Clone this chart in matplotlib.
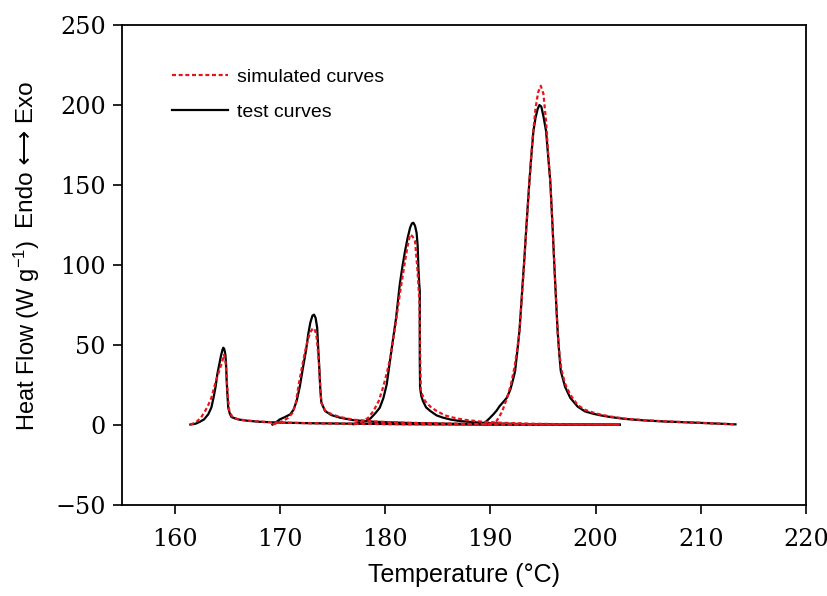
import matplotlib
matplotlib.use("Agg")
import matplotlib.pyplot as plt
from matplotlib.lines import Line2D

# ---------------- data ----------------
test1_x = [161.5, 162.0, 162.4, 162.8, 163.2, 163.5, 163.7, 163.9, 164.06, 164.25, 164.4, 164.55,
           164.63, 164.72, 164.83, 164.9, 164.95, 165.03, 165.1, 165.25, 165.4, 165.8, 166.2, 167.0,
           168.1, 170, 173, 177, 182, 188, 194.5]
test1_y = [0.3, 0.8, 2.0, 3.5, 6.7, 11, 17, 24, 31.7, 38, 43, 47,
           48.3, 47.5, 44, 37, 27.5, 18, 10.8, 7, 5, 4, 3.3, 2.6,
           2.0, 1.5, 1.1, 0.8, 0.5, 0.3, 0.2]
sim1_x = [161.5, 162.0, 162.5, 162.9, 163.2, 163.5, 163.84, 164.15, 164.5, 164.7, 164.85, 164.95,
          165.05, 165.2, 165.5, 166.0, 167.0, 168.5, 170, 173, 177, 182, 188, 194.5]
sim1_y = [0.3, 1.5, 4.5, 8.7, 12.5, 17, 25.4, 32, 39, 44, 39, 30,
          19, 8.5, 5.0, 3.6, 2.7, 2.0, 1.5, 1.1, 0.8, 0.5, 0.3, 0.2]

test2_x = [169.3, 169.6, 170.0, 170.5, 171.0, 171.3, 171.6, 171.9, 172.2, 172.5, 172.7, 172.9,
           173.1, 173.25, 173.4, 173.55, 173.65, 173.75, 173.85, 173.95, 174.3, 174.9, 175.7, 177,
           179, 182, 186, 190, 195, 202.3]
test2_y = [0.3, 1.5, 3.5, 5.0, 6.7, 9.5, 15, 24, 35.8, 47, 56.7, 64,
           68.3, 69, 67, 60.8, 48, 35.8, 22, 14, 8.75, 6.2, 4.6, 3.0,
           2.0, 1.3, 0.8, 0.5, 0.3, 0.2]
sim2_x = [169.3, 169.8, 170.3, 170.8, 171.2, 171.5, 171.8, 172.1, 172.4, 172.7, 172.9, 173.1,
          173.25, 173.4, 173.5, 173.6, 173.75, 173.85, 173.95, 174.3, 174.9, 175.7, 177, 179,
          182, 186, 190, 195, 202.3]
sim2_y = [0.3, 1.2, 2.5, 4.5, 7.5, 13, 25.4, 36, 46, 54, 58, 60,
          60.5, 58, 54.6, 48, 35.8, 22, 14, 9, 6.8, 5.0, 3.3, 2.2,
          1.4, 0.9, 0.5, 0.3, 0.2]

test3_x = [177.0, 177.6, 178.2, 178.6, 179.1, 179.5, 179.85, 180.16, 180.6, 181.05, 181.4, 181.65,
           181.9, 182.15, 182.38, 182.55, 182.69, 182.85, 183.0, 183.1, 183.17, 183.25, 183.3, 183.3,
           183.33, 183.45, 183.6, 183.9, 184.3, 184.9, 185.5, 186.3, 187.1, 188.3, 189.5, 191,
           194, 198, 202.3]
test3_y = [0.5, 1.5, 2.5, 4, 7.5, 10.8, 17, 25.4, 46.25, 67, 87.9, 99,
           108.75, 117, 123.3, 126, 126.4, 124.5, 120, 112, 98, 88, 84, 41,
           23.3, 18, 15, 11, 8.75, 6, 4.6, 3.3, 2.5, 1.8, 1.3, 0.9,
           0.5, 0.3, 0.2]
sim3_x = [177.0, 177.8, 178.4, 178.9, 179.4, 179.8, 180.15, 180.5, 180.95, 181.4, 181.9, 182.15,
          182.38, 182.6, 182.85, 183.07, 183.27, 183.33, 183.4, 183.8, 184.3, 184.9, 185.7, 186.5,
          187.5, 189, 191, 194, 198, 202.3]
sim3_y = [0.5, 2.0, 4.5, 8.75, 15, 23.3, 32, 42, 60.8, 81.7, 102.5, 112,
          119, 118, 115, 98, 77, 46, 21, 15, 11.5, 8.75, 6, 4.6,
          3.3, 2.2, 1.4, 0.8, 0.4, 0.2]

test4_x = [189.3, 189.5, 189.9, 190.3, 190.6, 190.9, 191.25, 191.57, 191.9, 192.15, 192.36, 192.57,
           192.77, 192.93, 193.09, 193.25, 193.4, 193.56, 193.72, 193.9, 194.1, 194.3, 194.5, 194.67,
           194.85, 195.05, 195.3, 195.5, 195.7, 195.82, 195.94, 196.05, 196.16, 196.28, 196.4, 196.55,
           196.7, 197.1, 197.6, 198.3, 199.0, 199.8, 200.5, 201.4, 202.8, 204.55, 206.5, 209.3,
           211.5, 213.3]
test4_y = [0.3, 1.5, 4, 6.7, 9, 11.9, 14.5, 17, 22, 28, 33.75, 46,
           58.75, 74, 90, 105, 121, 137, 152.5, 168, 183.75, 192, 197.5, 200,
           199, 193, 183.75, 168, 152.5, 137, 121, 105, 90, 74, 58.75, 45,
           33.75, 24, 17, 11.5, 8.5, 7.0, 6, 5, 3.8, 2.9, 2.2, 1.5,
           0.9, 0.4]
sim4_x = [189.3, 190.0, 190.6, 191.1, 191.6, 191.95, 192.3, 192.55, 192.77, 193.09, 193.4, 193.72,
          194.0, 194.3, 194.55, 194.8, 195.05, 195.3, 195.5, 195.7, 195.94, 196.16, 196.4, 196.55,
          196.75, 197.1, 197.6, 198.3, 199.0, 199.8, 200.5, 201.4, 202.8, 204.55, 206.5, 209.3,
          211.5, 213.3]
sim4_y = [0.3, 1.0, 2.5, 8, 17, 25, 36, 47, 58, 88, 120, 152,
          178, 198, 208, 212, 207, 190, 170, 152.5, 121, 90, 58.75, 46,
          35, 26, 19, 12.5, 9.5, 7.7, 6.5, 5.3, 4.0, 3.1, 2.3, 1.6,
          0.9, 0.4]

x_ticks = [160, 170, 180, 190, 200, 210, 220]
y_ticks = [-50, 0, 50, 100, 150, 200, 250]
legend_labels = ["simulated curves", "test curves"]

# ---------------- figure ----------------
plt.rcParams['mathtext.fontset'] = 'custom'
plt.rcParams['mathtext.rm'] = 'Liberation Sans'
plt.rcParams['mathtext.it'] = 'Liberation Sans:italic'

fig = plt.figure(figsize=(8.28, 5.96), dpi=100)
ax = fig.add_axes([0.1473, 0.1527, 0.8261, 0.8053])

tests = [(test1_x, test1_y), (test2_x, test2_y), (test3_x, test3_y), (test4_x, test4_y)]
sims = [(sim1_x, sim1_y), (sim2_x, sim2_y), (sim3_x, sim3_y), (sim4_x, sim4_y)]

black_lw = 1.6
red_lw = 1.6
red_ls = (0, (1.8, 1.2))
for x, y in tests:
    ax.plot(x, y, color='black', lw=black_lw, solid_joinstyle='round')
for x, y in sims:
    ax.plot(x, y, color='#e8141c', lw=red_lw, linestyle=red_ls)

ax.set_xlim(155, 220)
ax.set_ylim(-50, 250)
ax.set_xticks(x_ticks)
ax.set_yticks(y_ticks)
ax.tick_params(direction='out', length=6.5, width=1.2, top=False, right=False)
ax.tick_params(axis='y', pad=5)
ax.tick_params(axis='x', pad=10)
for lab in ax.get_xticklabels() + ax.get_yticklabels():
    lab.set_fontfamily('DejaVu Serif')
    lab.set_fontsize(17.2)
for sp in ax.spines.values():
    sp.set_linewidth(1.3)

sans = ['Liberation Sans', 'DejaVu Sans']
ax.set_xlabel('Temperature (°C)', fontsize=18, family=sans, labelpad=9)

fig.text(0.0326, 0.437, 'Heat Flow (W g$^{-1}$)', rotation=90, ha='center', va='center',
         fontsize=17, family=sans)
fig.text(0.0326, 0.74, 'Endo \u27f7 Exo', rotation=90, ha='center', va='center',
         fontsize=17.5, family=sans)

handles = [Line2D([], [], color='#e8141c', lw=red_lw, linestyle=red_ls),
           Line2D([], [], color='black', lw=black_lw)]
ax.legend(handles, legend_labels, loc='upper left', bbox_to_anchor=(0.073, 0.91),
          frameon=False, prop={'family': sans, 'size': 14},
          handlelength=2.9, handletextpad=0.45, labelspacing=0.9,
          borderpad=0, borderaxespad=0)

fig.savefig('out.png', dpi=100)
